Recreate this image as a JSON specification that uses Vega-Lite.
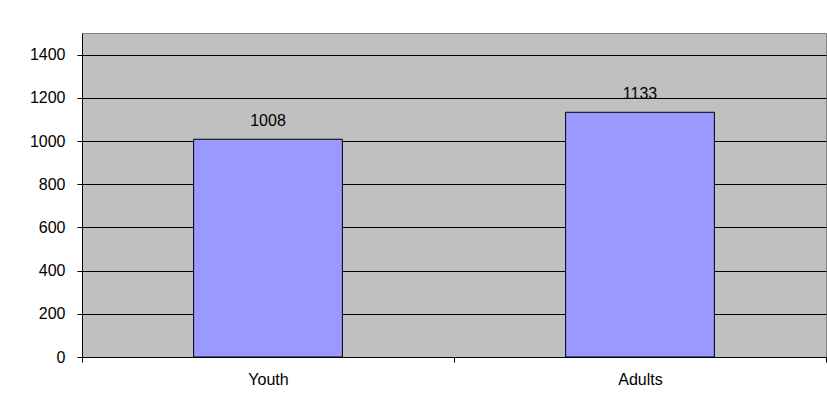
{
  "$schema": "https://vega.github.io/schema/vega-lite/v6.json",
  "width": 744,
  "height": 324,
  "autosize": {"type": "none"},
  "padding": {"left": 82, "top": 33, "right": 1, "bottom": 47},
  "background": "white",
  "config": {
    "view": {"fill": "#C0C0C0", "stroke": "#808080", "strokeWidth": 1},
    "font": "Liberation Sans"
  },
  "data": {
    "values": [
      {"group": "Youth", "count": 1008},
      {"group": "Adults", "count": 1133}
    ]
  },
  "encoding": {
    "x": {
      "field": "group",
      "type": "nominal",
      "sort": null,
      "scale": {"paddingInner": 0, "paddingOuter": 0},
      "axis": {
        "title": null,
        "labelAngle": 0,
        "labelFont": "Liberation Sans",
        "labelFontSize": 16,
        "labelColor": "black",
        "labelBaseline": "alphabetic",
        "labelPadding": 22,
        "tickBand": "extent",
        "ticks": true,
        "tickSize": 5,
        "tickColor": "black",
        "domainColor": "black",
        "grid": false
      }
    },
    "y": {
      "field": "count",
      "type": "quantitative",
      "scale": {"domain": [0, 1500], "nice": false},
      "axis": {
        "title": null,
        "values": [0, 200, 400, 600, 800, 1000, 1200, 1400],
        "format": "d",
        "labelFont": "Liberation Sans",
        "labelFontSize": 16,
        "labelColor": "black",
        "labelPadding": 12,
        "tickSize": 5,
        "tickColor": "black",
        "domainColor": "black",
        "grid": true,
        "gridColor": "black",
        "gridOpacity": 1,
        "gridWidth": 1
      }
    }
  },
  "layer": [
    {
      "mark": {"type": "bar", "width": {"band": 0.4}, "fill": "#9999FF", "stroke": "black", "strokeWidth": 1}
    },
    {
      "mark": {"type": "text", "baseline": "alphabetic", "dy": -13, "fontSize": 16, "font": "Liberation Sans", "color": "black"},
      "encoding": {"text": {"field": "count", "type": "quantitative", "format": "d"}}
    }
  ]
}
